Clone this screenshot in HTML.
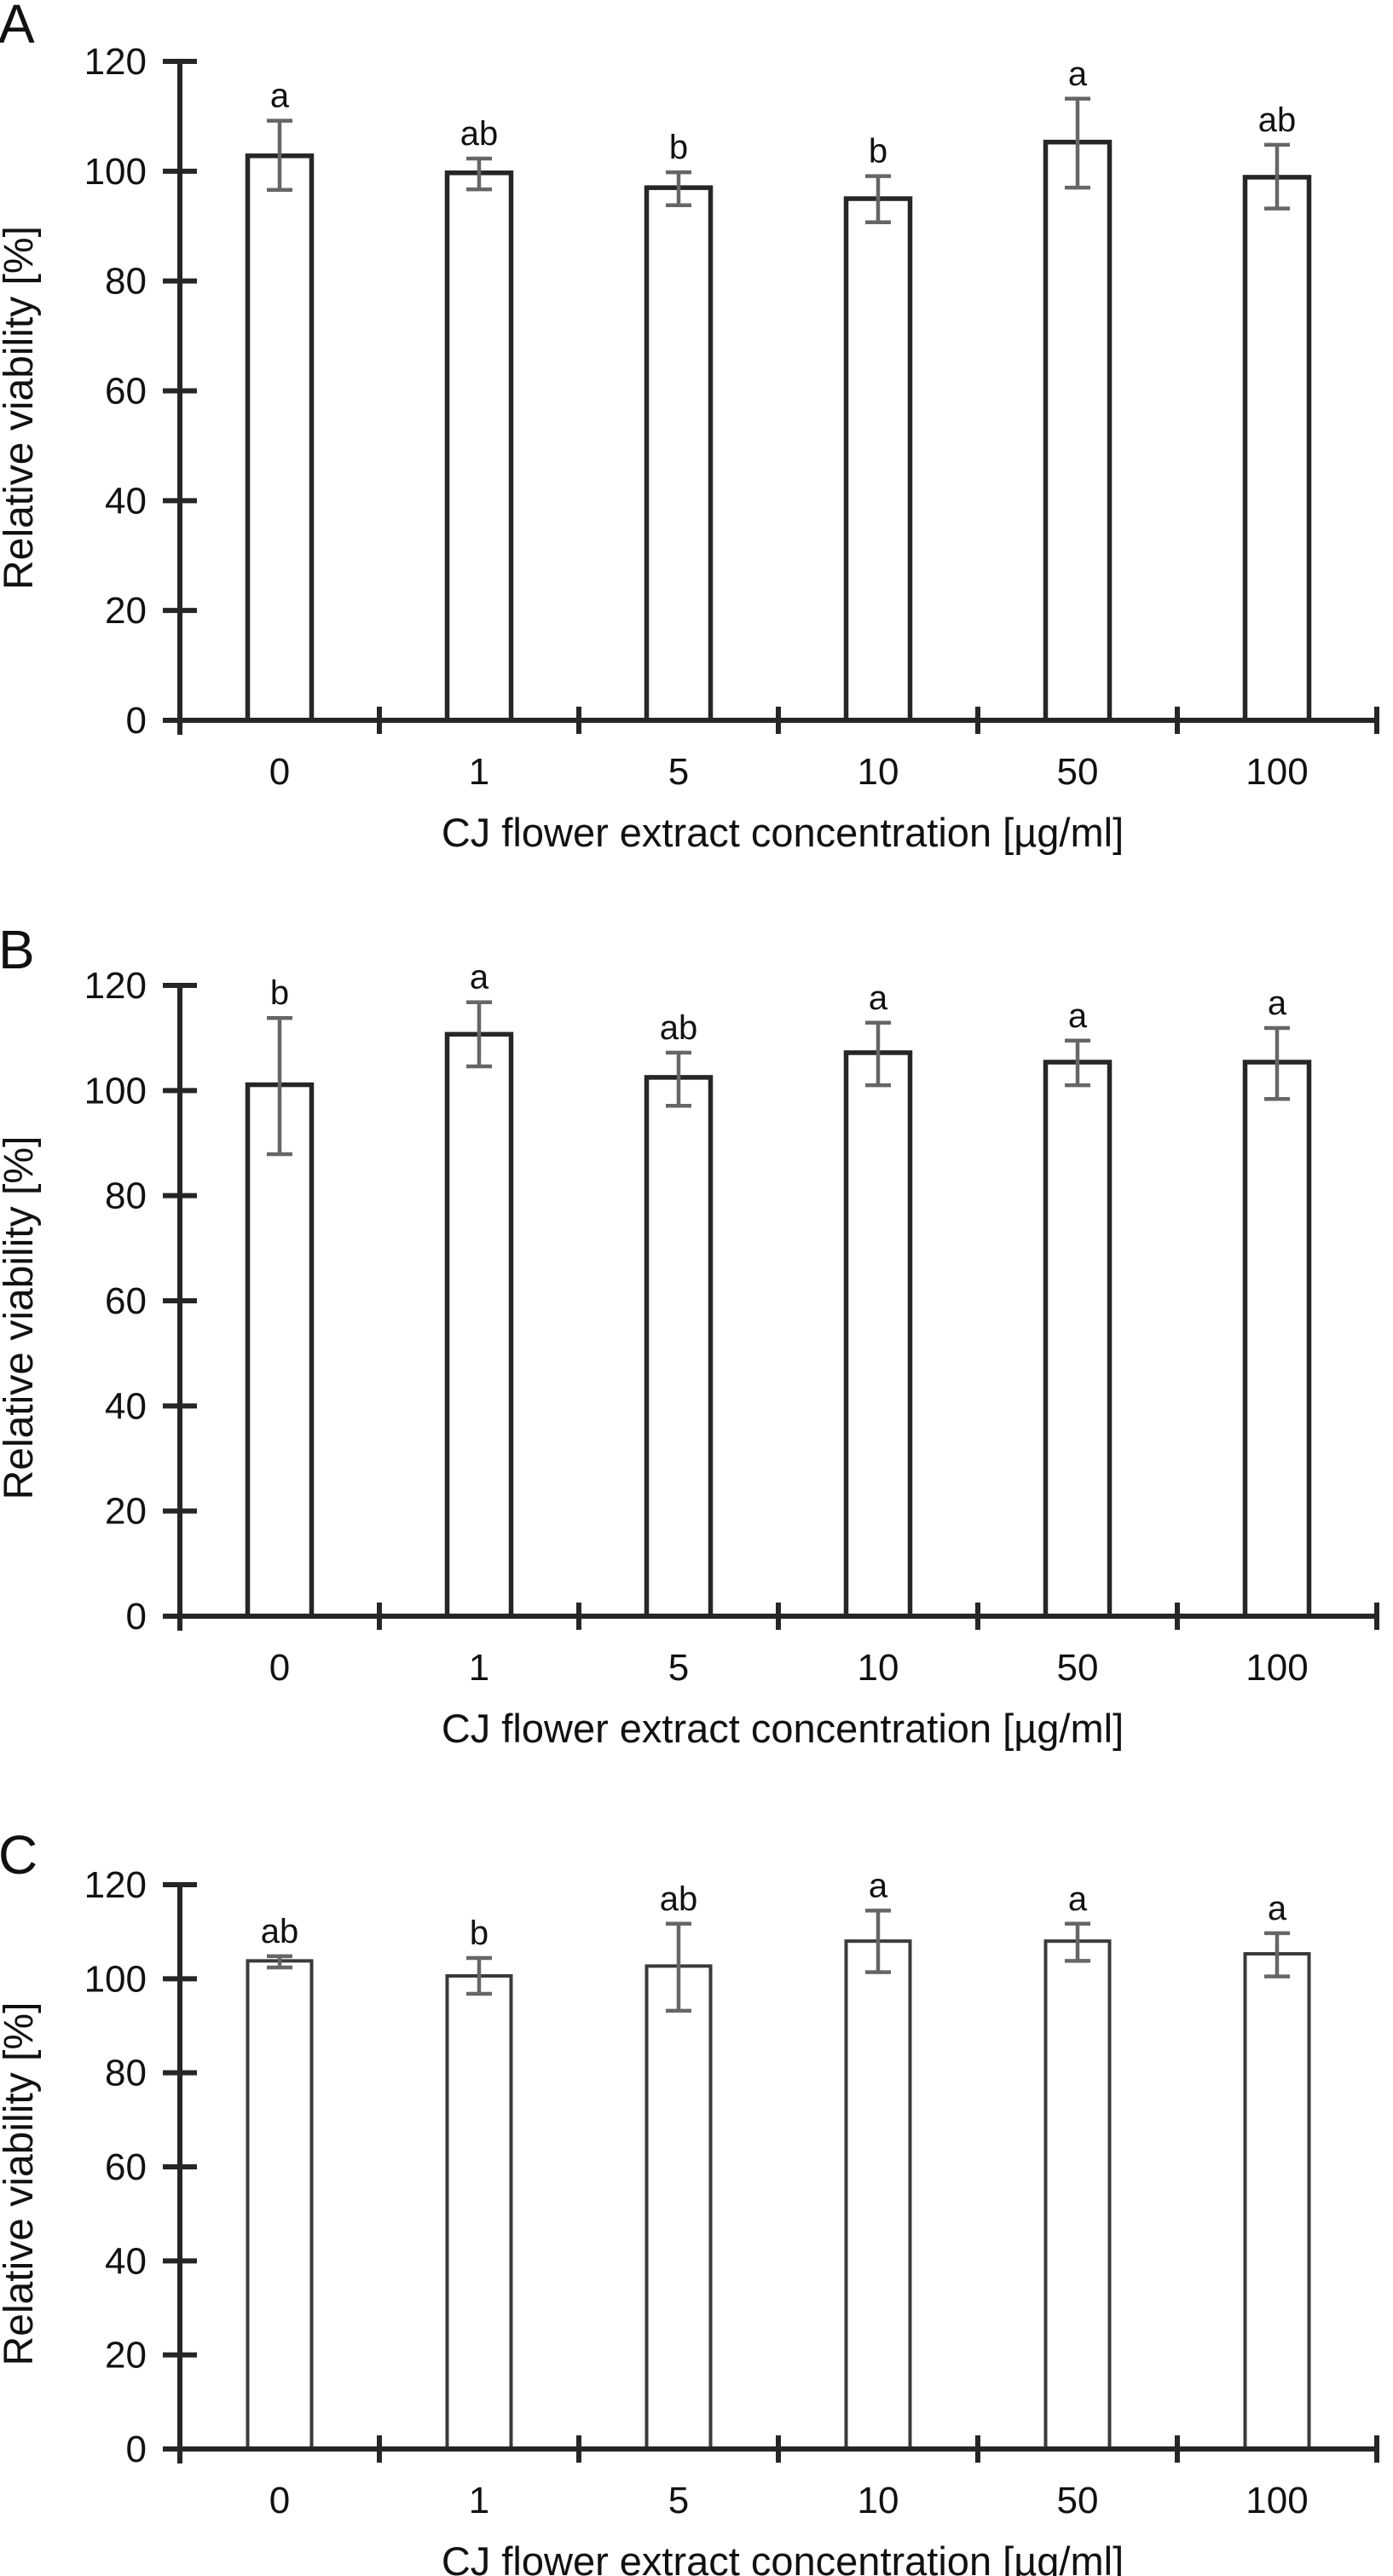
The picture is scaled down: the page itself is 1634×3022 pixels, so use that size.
<!DOCTYPE html>
<html><head><meta charset="utf-8"><style>
html,body{margin:0;padding:0;background:#fff}
svg{display:block}
text{font-family:"Liberation Sans",sans-serif;fill:#111}
</style></head><body>
<svg id="fig" width="1634" height="3022" viewBox="0 0 1634 3022" xmlns="http://www.w3.org/2000/svg"></svg>
<script>
const categories = ["0","1","5","10","50","100"];
const yTicks = [0,20,40,60,80,100,120];
const valuesA = [102.8, 99.7, 97.0, 95.0, 105.3, 98.9];
const errHiA  = [109.2, 102.3, 99.8, 99.1, 113.2, 104.8];
const errLoA  = [96.6, 96.7, 93.8, 90.7, 97.0, 93.2];
const lettersA = ["a","ab","b","b","a","ab"];
const valuesB = [101.1, 110.7, 102.5, 107.2, 105.4, 105.4];
const errHiB  = [113.8, 116.8, 107.2, 112.9, 109.5, 111.9];
const errLoB  = [87.9, 104.6, 97.1, 101.0, 101.0, 98.4];
const lettersB = ["b","a","ab","a","a","a"];
const valuesC = [103.8, 100.6, 102.7, 108.0, 108.0, 105.3];
const errHiC  = [104.8, 104.4, 111.7, 114.5, 111.7, 109.7];
const errLoC  = [102.4, 96.8, 93.2, 101.4, 103.8, 100.5];
const lettersC = ["ab","b","ab","a","a","a"];

const NS = "http://www.w3.org/2000/svg";
const svg = document.getElementById("fig");
function mk(tag, attrs, parent){
  const e = document.createElementNS(NS, tag);
  for (const k in attrs) e.setAttribute(k, attrs[k]);
  (parent||svg).appendChild(e);
  return e;
}
const X0 = 211, CW = 234, BW = 75;
function drawPanel(cfg){
  const g = mk("g", {});
  
  
  const ys = v => cfg.y0 - (v/120)*(cfg.y0 - cfg.y120);
  const xc = i => X0 + CW*(i+0.5);
  const barStroke = cfg.thin ? 4 : 5.5;
  const barColor = cfg.thin ? "#3a3a3a" : "#262626";
  const L = mk("text", {x: -2, y: cfg.letterY, "font-size": 64}, g);
  L.textContent = cfg.id;
  
  
  categories.forEach((c,i)=>{
    const top = ys(cfg.vals[i]);
    const b = mk("rect", {x: xc(i)-BW/2, y: top, width: BW, height: cfg.y0-top, fill:"#fff", stroke: barColor, "stroke-width": barStroke}, g);
    
    
    const hi = ys(cfg.hi[i]), lo = ys(cfg.lo[i]);
    const eg = mk("g", {stroke:"#666", "stroke-width": 4.5}, g);
    
    
    mk("line", {x1: xc(i), x2: xc(i), y1: hi, y2: lo}, eg);
    mk("line", {x1: xc(i)-15, x2: xc(i)+15, y1: hi, y2: hi}, eg);
    mk("line", {x1: xc(i)-15, x2: xc(i)+15, y1: lo, y2: lo}, eg);
    const t = mk("text", {x: xc(i), y: hi-16, "font-size": 40, "text-anchor":"middle"}, g);
    t.textContent = cfg.letters[i];
    
    
    const tl = mk("text", {x: xc(i), y: cfg.y0+75, "font-size": 44, "text-anchor":"middle"}, g);
    tl.textContent = c;
    
    
  });
  const ax = mk("g", {stroke:"#262626", "stroke-width": 6}, g);
  
  
  mk("line", {x1: X0, x2: X0, y1: cfg.y120-3, y2: cfg.y0+17}, ax);
  mk("line", {x1: X0-20, x2: X0+CW*6, y1: cfg.y0, y2: cfg.y0}, ax);
  for (let k=1;k<=6;k++) mk("line", {x1: X0+CW*k, x2: X0+CW*k, y1: cfg.y0-16, y2: cfg.y0+16}, ax);
  yTicks.forEach(v=>{
    mk("line", {x1: X0-20, x2: X0+20, y1: ys(v), y2: ys(v)}, ax);
    const t = mk("text", {x: 172, y: ys(v)+15, "font-size": 44, "text-anchor":"end"}, g);
    t.textContent = v;
    
    
  });
  const yt = mk("text", {x: 0, y: 0, "font-size": 48, "text-anchor":"middle", transform: `translate(38,${(cfg.y0+cfg.y120)/2+20}) rotate(-90)`}, g);
  yt.textContent = "Relative viability [%]";
  
  
  const xt = mk("text", {x: 918, y: cfg.y0+148, "font-size": 47, "text-anchor":"middle"}, g);
  xt.textContent = "CJ flower extract concentration [µg/ml]";
  
  
}
drawPanel({id:"A", y0:845, y120:72, letterY:50, vals:valuesA, hi:errHiA, lo:errLoA, letters:lettersA});
drawPanel({id:"B", y0:1896, y120:1156, letterY:1136, vals:valuesB, hi:errHiB, lo:errLoB, letters:lettersB});
drawPanel({id:"C", y0:2873, y120:2211, letterY:2198, vals:valuesC, hi:errHiC, lo:errLoC, letters:lettersC, thin:true});
</script>
</body></html>
